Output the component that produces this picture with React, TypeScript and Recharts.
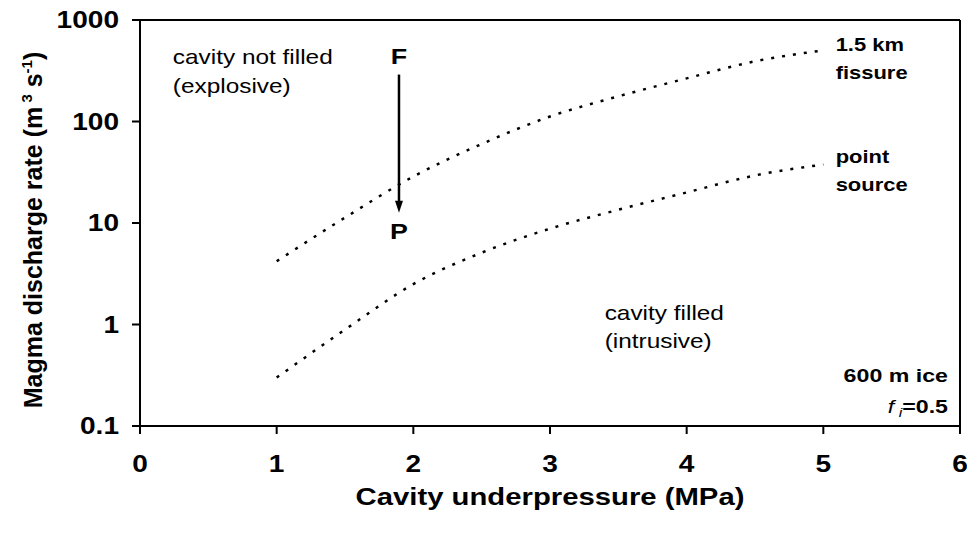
import React from "react";
import {
  LineChart,
  Line,
  XAxis,
  YAxis,
  ReferenceLine,
  ReferenceDot,
} from "recharts";

// cavity underpressure (MPa)
const pressure = [1, 1.5, 2, 2.5, 3, 3.5, 4, 4.5, 5];
// magma discharge rate (m3/s)
const fissureRate = [4.2, 11.3, 28.7, 60, 112, 177, 266, 392, 502];
const pointRate = [0.3, 0.89, 2.5, 5.1, 8.8, 13.5, 20, 29.4, 37.7];

const xTicks = [0, 1, 2, 3, 4, 5, 6];
const yTicks = [0.1, 1, 10, 100, 1000];

const data = pressure.map((p, i) => ({
  p,
  fissure: fissureRate[i],
  point: pointRate[i],
}));

const FONT = "'Liberation Sans', Arial, sans-serif";
// the original raster is stretched sideways a little
const SX = 1.22;

type Note = {
  x: number;
  y: number;
  lines: string[];
  bold?: boolean;
  anchor?: "start" | "middle" | "end";
  size?: number;
  gap?: number;
};

const notes: Note[] = [
  { x: 0.24, y: 366, lines: ["cavity not filled", "(explosive)"], size: 20, gap: 29 },
  { x: 1.895, y: 366, lines: ["F"], bold: true, anchor: "middle", size: 22 },
  { x: 1.895, y: 7.0, lines: ["P"], bold: true, anchor: "middle", size: 22 },
  { x: 5.09, y: 492, lines: ["1.5 km", "fissure"], bold: true, size: 18, gap: 28 },
  { x: 5.09, y: 38.6, lines: ["point", "source"], bold: true, size: 18, gap: 28 },
  { x: 3.4, y: 1.11, lines: ["cavity filled", "(intrusive)"], size: 20, gap: 28 },
  { x: 5.912, y: 0.272, lines: ["600 m ice"], bold: true, anchor: "end", size: 19 },
];

const renderNote = (n: Note) => (props: any) => (
  <g transform={`translate(${props.cx} ${props.cy}) scale(${SX} 1)`}>
    <text
      x={0}
      y={0}
      textAnchor={n.anchor || "start"}
      fontFamily={FONT}
      fontSize={n.size || 20}
      fontWeight={n.bold ? "bold" : "normal"}
      fill="#000"
    >
      {n.lines.map((l, i) => (
        <tspan key={i} x={0} dy={i === 0 ? 0 : n.gap || 28}>
          {l}
        </tspan>
      ))}
    </text>
  </g>
);

const FiNote = (props: any) => (
  <g transform={`translate(${props.cx} ${props.cy}) scale(${SX} 1)`}>
    <text x={0} y={0} textAnchor="end" fontFamily={FONT} fontSize={19} fontWeight="bold" fill="#000">
      <tspan fontStyle="italic" fontWeight="normal">f</tspan>
      <tspan fontStyle="italic" fontWeight="normal" fontSize={13} dy={4}>
        {" i"}
      </tspan>
      <tspan dy={-4}>=0.5</tspan>
    </text>
  </g>
);

const Arrow = (props: any) => {
  const { x1, y1, x2, y2 } = props;
  return (
    <g>
      <line x1={x1} y1={y1} x2={x2} y2={y2 - 10} stroke="#000" strokeWidth={2.5} />
      <polygon
        points={`${x2 - 4},${y2 - 12} ${x2 + 4},${y2 - 12} ${x2},${y2}`}
        fill="#000"
      />
    </g>
  );
};

const YTitle = () => {
  const cx = 33;
  const cy = 230;
  return (
    <text
      transform={`rotate(-90 ${cx} ${cy})`}
      x={cx}
      y={cy + 9}
      textAnchor="middle"
      fontFamily={FONT}
      fontSize={25}
      fontWeight="bold"
      fill="#000"
    >
      <tspan>Magma discharge rate (m</tspan>
      <tspan fontSize={15} dy={-10}>{" 3"}</tspan>
      <tspan dy={10}>{" s"}</tspan>
      <tspan fontSize={15} dy={-10}>-1</tspan>
      <tspan dy={10}>)</tspan>
    </text>
  );
};

const XTitle = (props: any) => {
  const vb = props.viewBox;
  return (
    <g transform={`translate(${vb.x + vb.width / 2} 505) scale(${SX} 1)`}>
      <text x={0} y={0} textAnchor="middle" fontFamily={FONT} fontSize={24} fontWeight="bold" fill="#000">
        Cavity underpressure (MPa)
      </text>
    </g>
  );
};

const XTick = (props: any) => (
  <g transform={`translate(${props.x} ${props.y}) scale(${SX} 1)`}>
    <text x={0} y={0} dy="0.71em" textAnchor="middle" fontFamily={FONT} fontSize={23} fontWeight="bold" fill="#000">
      {props.payload.value}
    </text>
  </g>
);

const YTick = (props: any) => (
  <g transform={`translate(${props.x} ${props.y}) scale(${SX} 1)`}>
    <text x={0} y={0} dy="0.355em" textAnchor="end" fontFamily={FONT} fontSize={23} fontWeight="bold" fill="#000">
      {String(props.payload.value)}
    </text>
  </g>
);

export default function App() {
  return (
    <div style={{ position: "absolute", left: 0, top: 0, background: "#fff" }}>
      <LineChart
        width={967}
        height={533}
        data={data}
        margin={{ top: 20, right: 7, left: 0, bottom: 0 }}
      >
        <XAxis
          dataKey="p"
          type="number"
          domain={[0, 6]}
          ticks={xTicks}
          tickSize={8}
          tickMargin={22}
          height={107}
          stroke="#000"
          strokeWidth={2}
          tick={<XTick />}
          tickLine={{ stroke: "#000", strokeWidth: 2 }}
          label={<XTitle />}
        />
        <YAxis
          scale="log"
          domain={[0.1, 1000]}
          ticks={yTicks}
          allowDataOverflow
          width={140}
          tickSize={8}
          tickMargin={13}
          stroke="#000"
          strokeWidth={2}
          tick={<YTick />}
          tickLine={{ stroke: "#000", strokeWidth: 2 }}
          label={<YTitle />}
        />
        <ReferenceLine y={1000} stroke="#000" strokeWidth={2} />
        <ReferenceLine x={6} stroke="#000" strokeWidth={2} />
        <Line
          dataKey="fissure"
          type="monotone"
          stroke="#000"
          strokeWidth={2.5}
          strokeDasharray="3 8"
          dot={false}
          isAnimationActive={false}
        />
        <Line
          dataKey="point"
          type="monotone"
          stroke="#000"
          strokeWidth={2.5}
          strokeDasharray="3 8"
          dot={false}
          isAnimationActive={false}
        />
        <ReferenceLine
          segment={[
            { x: 1.895, y: 290 },
            { x: 1.895, y: 12.6 },
          ]}
          shape={<Arrow />}
        />
        {notes.map((n, i) => (
          <ReferenceDot key={i} x={n.x} y={n.y} r={0} shape={renderNote(n)} />
        ))}
        <ReferenceDot x={5.912} y={0.134} r={0} shape={<FiNote />} />
      </LineChart>
    </div>
  );
}
